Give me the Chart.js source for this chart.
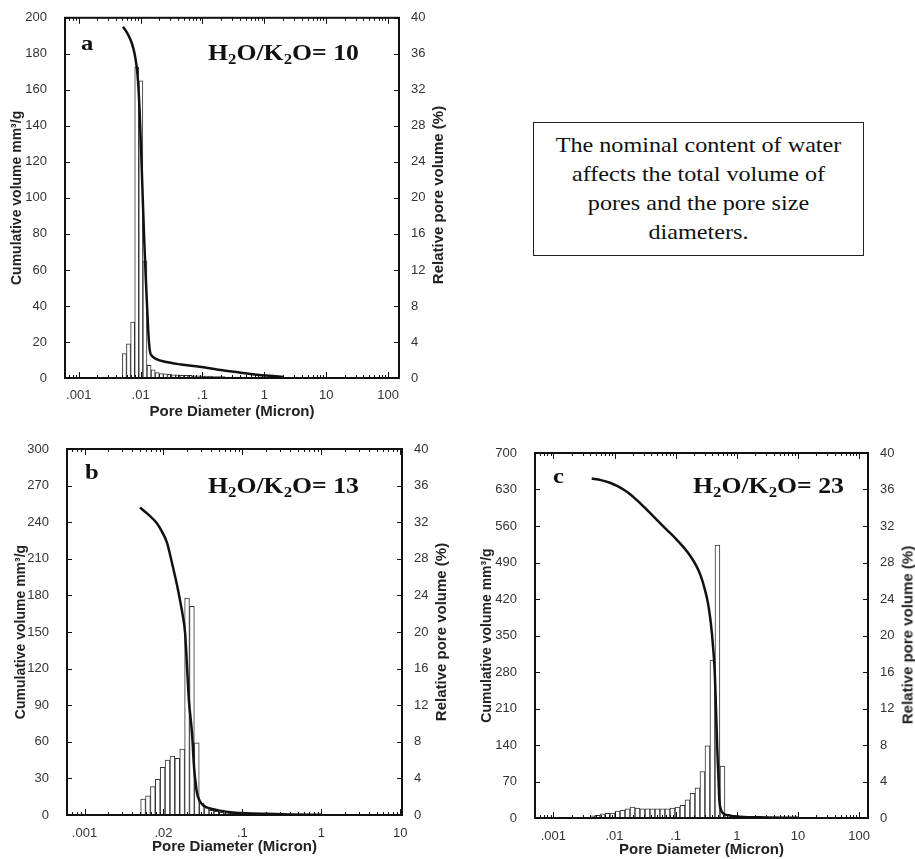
<!DOCTYPE html>
<html>
<head>
<meta charset="utf-8">
<script src="https://cdn.jsdelivr.net/npm/chart.js@4.4.1/dist/chart.umd.min.js"></script>
<style>
  body { margin: 0; background: #fff; }
  #page { position: relative; width: 915px; height: 859px; overflow: hidden; }
  canvas { position: absolute; }
  .tag { position: absolute; font-family: "Liberation Serif", "Times New Roman", serif; font-weight: bold; color: #111; white-space: nowrap; transform-origin: left top; transform: scaleX(1.12); }
  .letter { font-size: 22px; line-height: 22px; }
  .ratio { font-size: 23px; line-height: 23px; }
  .ratio sub { font-size: 65%; vertical-align: -0.25em; line-height: 0; }
  .rtitle { position: absolute; font-family: "Liberation Sans", Arial, sans-serif; font-weight: bold; font-size: 15px; color: #222; white-space: nowrap; transform: translate(-50%, -50%) rotate(-90deg); }
  #note { position: absolute; left: 533px; top: 122px; width: 331px; height: 134px; box-sizing: border-box; border: 1.5px solid #222; text-align: center; font-family: "Liberation Serif", "Times New Roman", serif; font-size: 21px; line-height: 29px; color: #111; padding-top: 8px; }
  #note div { transform: scaleX(1.15); white-space: nowrap; }
</style>
</head>
<body>
<div id="page">
  <canvas id="chartA" width="450" height="425" style="left:0;top:0"></canvas>
  <canvas id="chartB" width="450" height="429" style="left:0;top:430px"></canvas>
  <canvas id="chartC" width="445" height="429" style="left:470px;top:430px"></canvas>

  <div class="tag letter" style="left:81px;top:32px">a</div>
  <div class="tag ratio" style="left:208px;top:41px">H<sub>2</sub>O/K<sub>2</sub>O= 10</div>
  <div class="tag letter" style="left:85px;top:461px">b</div>
  <div class="tag ratio" style="left:208px;top:474px">H<sub>2</sub>O/K<sub>2</sub>O= 13</div>
  <div class="tag letter" style="left:553px;top:465px">c</div>
  <div class="tag ratio" style="left:693px;top:474px">H<sub>2</sub>O/K<sub>2</sub>O= 23</div>

  <div class="rtitle" style="left:437px;top:195px">Relative pore volume (%)</div>
  <div class="rtitle" style="left:440px;top:632px">Relative pore volume (%)</div>
  <div class="rtitle" style="left:907px;top:635px">Relative pore volume (%)</div>

  <div id="note">
    <div>The nominal content of water</div>
    <div>affects the total volume of</div>
    <div>pores and the pore size</div>
    <div>diameters.</div>
  </div>
</div>

<script>
// ---- panel a : H2O/K2O = 10 ----
const xTicksA = [0.001, 0.01, 0.1, 1, 10, 100];
const xLabelsA = [".001", ".01", ".1", "1", "10", "100"];
const curveXA = [0.0052, 0.0062, 0.0072, 0.0080, 0.0087, 0.0092, 0.0097, 0.0102, 0.0108, 0.0114, 0.0121, 0.0128, 0.0134, 0.0142, 0.0155, 0.018, 0.025, 0.045, 0.09, 0.18, 0.35, 0.7, 1.2, 2.0];
const curveVA = [195, 191, 186, 180, 172, 162, 146, 126, 101, 78, 56, 38, 24, 14.5, 12, 10.5, 9, 7.5, 6.2, 4.6, 3.3, 2.0, 1.2, 0.6];
const barXA = [0.00548, 0.00638, 0.00744, 0.00866, 0.01009, 0.01175, 0.01369, 0.01594, 0.01857, 0.02163, 0.0252, 0.0293, 0.0342, 0.0398, 0.0464, 0.0540, 0.0629, 0.0733, 0.0853, 0.0994, 0.1158, 0.1349, 0.157, 0.183, 0.213, 0.248, 0.289, 0.337, 0.392, 0.457, 0.532, 0.620, 0.722, 0.841, 0.980];
const barVA = [2.7, 3.8, 6.2, 34.5, 33.0, 13.0, 1.4, 0.9, 0.6, 0.5, 0.45, 0.4, 0.35, 0.35, 0.3, 0.3, 0.3, 0.25, 0.25, 0.2, 0.2, 0.2, 0.15, 0.15, 0.15, 0.1, 0.1, 0.1, 0.1, 0.1, 0.05, 0.05, 0.05, 0.05, 0.05];

// ---- panel b : H2O/K2O = 13 ----
const xTicksB = [0.001, 0.01, 0.1, 1, 10];
const xLabelsB = [".001", ".02", ".1", "1", "10"];
const curveXB = [0.00505, 0.0065, 0.0083, 0.0098, 0.0111, 0.0132, 0.0150, 0.0162, 0.0175, 0.0188, 0.0199, 0.0210, 0.0230, 0.0244, 0.0256, 0.0266, 0.0285, 0.0317, 0.038, 0.048, 0.076, 0.13, 0.2, 0.4, 1.0];
const curveVB = [252, 246, 239, 231, 223, 203, 187, 176, 164, 149, 121, 94, 67, 39, 26, 18, 12, 8, 5.5, 4, 2, 1.3, 1, 0.5, 0.2];
const barXB = [0.00552, 0.00636, 0.00734, 0.00846, 0.00976, 0.01125, 0.01297, 0.01496, 0.01725, 0.01989, 0.02293, 0.02644, 0.0305, 0.0352, 0.0405, 0.0467, 0.0539, 0.0621, 0.0716, 0.0826, 0.0952, 0.1098, 0.1266, 0.146, 0.168, 0.194];
const barVB = [1.75, 2.1, 3.1, 3.9, 5.2, 6.0, 6.45, 6.2, 7.2, 23.7, 22.8, 7.9, 1.3, 0.8, 0.5, 0.4, 0.3, 0.25, 0.2, 0.2, 0.15, 0.1, 0.1, 0.1, 0.05, 0.05];

// ---- panel c : H2O/K2O = 23 ----
const xTicksC = [0.001, 0.01, 0.1, 1, 10, 100];
const xLabelsC = [".001", ".01", ".1", "1", "10", "100"];
const curveXC = [0.00423, 0.0060, 0.0084, 0.011, 0.014, 0.018, 0.023, 0.030, 0.038, 0.052, 0.071, 0.10, 0.133, 0.175, 0.221, 0.26, 0.302, 0.335, 0.365, 0.39, 0.413, 0.435, 0.452, 0.467, 0.48, 0.50, 0.518, 0.55, 0.60, 0.75, 1.12, 3.1, 10];
const curveVC = [651, 648, 643, 637, 630, 621, 610, 597, 585, 569, 553, 536, 520, 502, 482, 463, 437, 414, 386, 356, 322, 282, 226, 175, 130, 80, 34.5, 16, 9, 5, 2.5, 1, 0.3];
const barXC = [0.00436, 0.00527, 0.00636, 0.00767, 0.00926, 0.01118, 0.0135, 0.0163, 0.0197, 0.0237, 0.0286, 0.0346, 0.0417, 0.0504, 0.0608, 0.0734, 0.0886, 0.1070, 0.1291, 0.1559, 0.1882, 0.2272, 0.2742, 0.3311, 0.3997, 0.4825, 0.5825, 0.703, 0.849];
const barVC = [0.25, 0.3, 0.45, 0.5, 0.55, 0.75, 0.85, 1.0, 1.2, 1.1, 1.0, 1.0, 1.0, 1.0, 1.0, 1.0, 1.1, 1.2, 1.4, 2.0, 2.7, 3.3, 5.1, 7.9, 17.3, 29.9, 5.7, 0.4, 0.15];

Chart.defaults.font.family = '"Liberation Sans", Arial, sans-serif';

// box round the plot plus inward tick marks on all four sides
const framePlugin = {
  id: "frame",
  afterDraw(chart) {
    const { ctx, chartArea: a, scales } = chart;
    ctx.save();
    ctx.strokeStyle = "#111";
    ctx.lineWidth = 1;
    ctx.beginPath();
    scales.y.ticks.forEach(t => {
      const py = Math.round(scales.y.getPixelForValue(t.value)) + 0.5;
      ctx.moveTo(a.left, py); ctx.lineTo(a.left + 5, py);
    });
    scales.y2.ticks.forEach(t => {
      const py = Math.round(scales.y2.getPixelForValue(t.value)) + 0.5;
      ctx.moveTo(a.right, py); ctx.lineTo(a.right - 5, py);
    });
    const xs = scales.x;
    for (let e = -4; e <= 3; e++) {
      for (let m = 1; m <= 9; m++) {
        const v = m * Math.pow(10, e);
        if (v < xs.min || v > xs.max) continue;
        const px = Math.round(xs.getPixelForValue(v)) + 0.5;
        const len = m === 1 ? 6 : 3;
        ctx.moveTo(px, a.bottom); ctx.lineTo(px, a.bottom - len);
        ctx.moveTo(px, a.top); ctx.lineTo(px, a.top + len);
      }
    }
    ctx.stroke();
    ctx.lineWidth = 2;
    ctx.strokeRect(a.left, a.top, a.right - a.left, a.bottom - a.top);
    ctx.restore();
  }
};

function makePanel(id, p) {
  new Chart(document.getElementById(id), {
    type: "bar",
    data: {
      datasets: [
        {
          type: "line",
          data: p.curveX.map((x, i) => ({ x: x, y: p.curveV[i] })),
          yAxisID: "y",
          borderColor: "#111",
          borderWidth: 2.5,
          pointRadius: 0,
          cubicInterpolationMode: "monotone",
          order: 0
        },
        {
          type: "bar",
          data: p.barX.map((x, i) => ({ x: x, y: p.barV[i] })),
          yAxisID: "y2",
          backgroundColor: "#fff",
          borderColor: "#333",
          borderWidth: 1,
          barPercentage: 1,
          categoryPercentage: 1,
          order: 1
        }
      ]
    },
    options: {
      responsive: false,
      animation: false,
      layout: { padding: { top: p.padTop, left: 0, right: 0, bottom: 0 } },
      plugins: { legend: { display: false }, tooltip: { enabled: false } },
      scales: {
        x: {
          type: "logarithmic",
          min: p.xMin,
          max: p.xMax,
          bounds: "data",
          offset: false,
          grid: { display: false, offset: false },
          border: { display: false },
          afterBuildTicks: s => { s.ticks = p.xTicks.map(v => ({ value: v })); },
          afterFit: s => { s.height = p.xH; },
          ticks: {
            autoSkip: false,
            maxRotation: 0,
            padding: p.xPad,
            color: "#333",
            font: { size: 13 },
            callback: (v, i) => p.xLabels[i]
          },
          title: {
            display: true,
            text: "Pore Diameter (Micron)",
            color: "#222",
            font: { size: 15, weight: "bold" },
            padding: { top: 0, bottom: p.xTitlePad }
          }
        },
        y: {
          position: "left",
          min: 0,
          max: p.yMax,
          grid: { display: false },
          border: { display: false },
          afterFit: s => { s.width = p.yW; },
          ticks: { stepSize: p.yStep, padding: 10, color: "#333", font: { size: 13 } },
          title: {
            display: true,
            text: "Cumulative volume mm³/g",
            color: "#222",
            font: { size: 14, weight: "bold" },
            padding: { top: p.yTitlePad, bottom: 0 }
          }
        },
        y2: {
          position: "right",
          min: 0,
          max: 40,
          grid: { display: false },
          border: { display: false },
          afterFit: s => { s.width = p.y2W; },
          ticks: { stepSize: 4, padding: 4, color: "#333", font: { size: 13 } }
        }
      }
    },
    plugins: [framePlugin]
  });
}

makePanel("chartA", {
  xTicks: xTicksA, xLabels: xLabelsA, curveX: curveXA, curveV: curveVA, barX: barXA, barV: barVA,
  xMin: 0.0006, xMax: 150, yMax: 200, yStep: 20,
  padTop: 16, xH: 47, yW: 65, y2W: 51, xPad: 2, xTitlePad: 4, yTitlePad: 9
});
makePanel("chartB", {
  xTicks: xTicksB, xLabels: xLabelsB, curveX: curveXB, curveV: curveVB, barX: barXB, barV: barVB,
  xMin: 0.0006, xMax: 10.5, yMax: 300, yStep: 30,
  padTop: 19, xH: 44, yW: 67, y2W: 48, xPad: 3, xTitlePad: 3, yTitlePad: 13
});
makePanel("chartC", {
  xTicks: xTicksC, xLabels: xLabelsC, curveX: curveXC, curveV: curveVC, barX: barXC, barV: barVC,
  xMin: 0.0005, xMax: 140, yMax: 700, yStep: 70,
  padTop: 23, xH: 41, yW: 65, y2W: 47, xPad: 3, xTitlePad: 0, yTitlePad: 9
});
</script>
</body>
</html>
